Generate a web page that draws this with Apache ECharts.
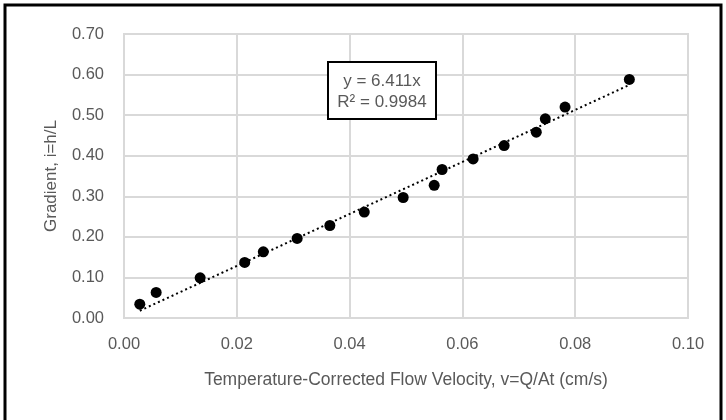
<!DOCTYPE html>
<html>
<head>
<meta charset="utf-8">
<script src="https://cdn.jsdelivr.net/npm/echarts@6/dist/echarts.min.js"></script>
<style>
  html, body { margin: 0; padding: 0; background: #fff; }
  #chart { width: 726px; height: 420px; }
</style>
</head>
<body>
<div id="chart"></div>
<script>
// measured points: flow velocity (cm/s) vs gradient
const velocity = [0.0028, 0.0057, 0.0135, 0.0214, 0.0247, 0.0307, 0.0365, 0.0426, 0.0495,
  0.0550, 0.0564, 0.0619, 0.0674, 0.0731, 0.0747, 0.0782, 0.0896];
const gradient = [0.034, 0.063, 0.099, 0.137, 0.163, 0.196, 0.228, 0.261, 0.297,
  0.327, 0.366, 0.392, 0.425, 0.458, 0.491, 0.520, 0.588];
const slope = 6.411;
const rSquared = 0.9984;
const xTicks = [0, 0.02, 0.04, 0.06, 0.08, 0.1];
const yTicks = [0, 0.1, 0.2, 0.3, 0.4, 0.5, 0.6, 0.7];

const points = velocity.map((v, i) => [v, gradient[i]]);
const xMin = Math.min(...velocity);
const xMax = Math.max(...velocity);
const trend = [[xMin, slope * xMin], [xMax, slope * xMax]];

const font = "'Liberation Sans', Arial, sans-serif";
const textColor = "#595959";
const gridColor = "#d9d9d9";

const chart = echarts.init(document.getElementById("chart"));
chart.setOption({
  backgroundColor: "#fff",
  animation: false,
  grid: { left: 124, right: 38, top: 34, bottom: 102, show: true, borderColor: gridColor, borderWidth: 2 },
  xAxis: {
    type: "value",
    min: xTicks[0], max: xTicks[xTicks.length - 1], interval: 0.02,
    name: "Temperature-Corrected Flow Velocity, v=Q/At (cm/s)",
    nameLocation: "middle",
    nameGap: 53,
    nameTextStyle: { color: textColor, fontFamily: font, fontSize: 17.5 },
    axisLine: { show: false },
    axisTick: { show: false },
    axisLabel: {
      color: textColor, fontFamily: font, fontSize: 16.5, margin: 18,
      formatter: v => v.toFixed(2)
    },
    splitLine: { show: true, lineStyle: { color: gridColor, width: 2 } }
  },
  yAxis: {
    type: "value",
    min: yTicks[0], max: yTicks[yTicks.length - 1], interval: 0.1,
    name: "Gradient, i=h/L",
    nameLocation: "middle",
    nameGap: 64,
    nameTextStyle: { color: textColor, fontFamily: font, fontSize: 17 },
    axisLine: { show: false },
    axisTick: { show: false },
    axisLabel: {
      color: textColor, fontFamily: font, fontSize: 16.5, margin: 20,
      formatter: v => v.toFixed(2)
    },
    splitLine: { show: true, lineStyle: { color: gridColor, width: 2 } }
  },
  series: [
    {
      type: "line",
      data: trend,
      symbol: "none",
      lineStyle: { color: "#000", width: 2, type: [2, 3] },
      z: 2
    },
    {
      type: "scatter",
      data: points,
      symbol: "circle",
      symbolSize: 11,
      itemStyle: { color: "#000", opacity: 1 },
      z: 3
    }
  ],
  graphic: [
    {
      type: "rect",
      z: 100,
      shape: { x: 5, y: 5, width: 716, height: 430 },
      style: { fill: "none", stroke: "#000", lineWidth: 3 },
      silent: true
    },
    {
      type: "group",
      z: 100,
      left: 327, top: 61,
      children: [
        {
          type: "rect",
          z: 100,
          shape: { x: 0, y: 0, width: 108, height: 57 },
          style: { fill: "#fff", stroke: "#000", lineWidth: 2 }
        },
        {
          type: "text",
          z: 101,
          x: 54, y: 19,
          style: {
            text: "y = " + slope + "x", fill: textColor, font: "17px " + font,
            align: "center", verticalAlign: "middle"
          }
        },
        {
          type: "text",
          z: 101,
          x: 54, y: 40,
          style: {
            text: "R² = " + rSquared, fill: textColor, font: "17px " + font,
            align: "center", verticalAlign: "middle"
          }
        }
      ]
    }
  ]
});
</script>
</body>
</html>
